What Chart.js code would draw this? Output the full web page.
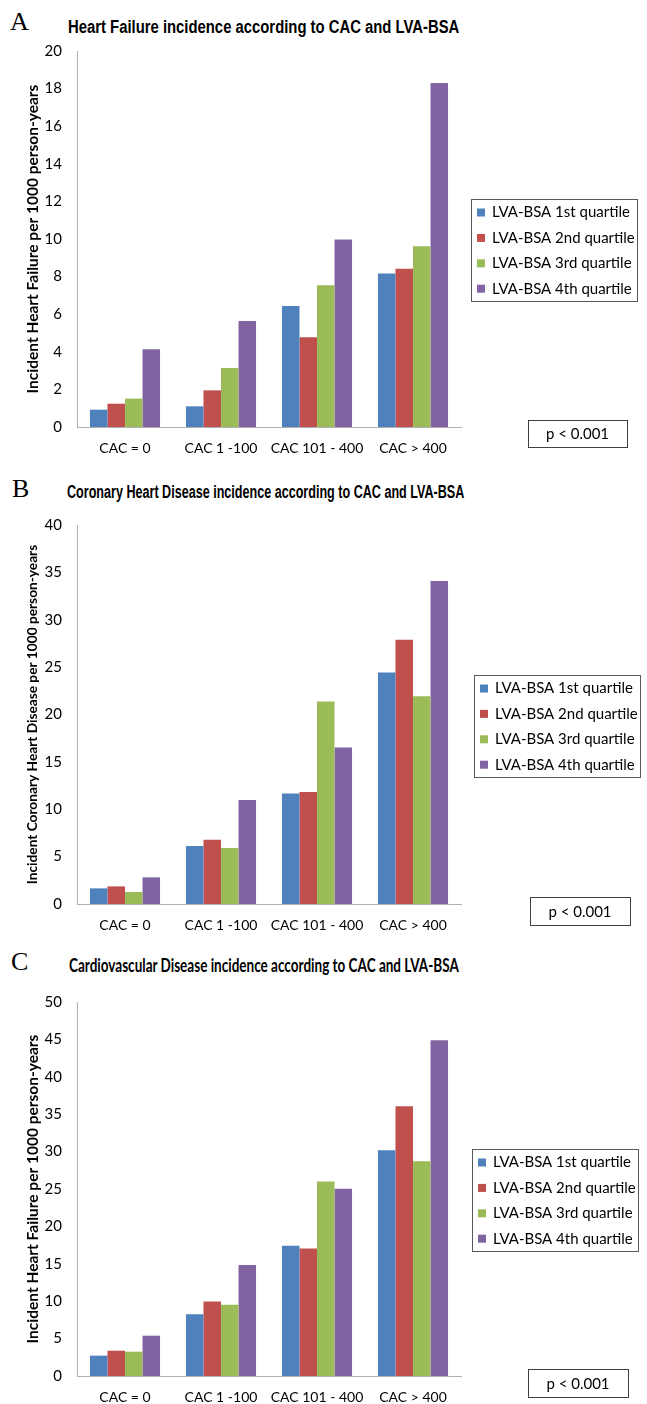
<!DOCTYPE html>
<html>
<head>
<meta charset="utf-8">
<script src="https://cdn.jsdelivr.net/npm/chart.js@4.4.0/dist/chart.umd.min.js"></script>
<style>
  body { margin: 0; background: #fff; }
  #page { position: relative; width: 647px; height: 1404px; overflow: hidden; }
  .letter { position: absolute; font-family: "Liberation Serif", serif; font-size: 26px; line-height: 26px; color: #000; }
  .title { position: absolute; white-space: nowrap; font-weight: bold; font-size: 18px; line-height: 18px; color: #000; transform-origin: 0 50%; }
  canvas { position: absolute; left: 0; }
</style>
</head>
<body>
<div id="page">
  <div class="letter" style="left:10px;top:9px">A</div>
  <div class="title" data-w="391" style="left:68px;top:18px;font-family:'Liberation Sans',Arial,sans-serif">Heart Failure incidence according to CAC and LVA-BSA</div>
  <canvas id="chartA" width="647" height="465" style="top:0px"></canvas>

  <div class="letter" style="left:12px;top:476px">B</div>
  <div class="title" data-w="397" style="left:67px;top:483px;font-family:'Liberation Sans',Arial,sans-serif">Coronary Heart Disease incidence according to CAC and LVA-BSA</div>
  <canvas id="chartB" width="647" height="470" style="top:465px"></canvas>

  <div class="letter" style="left:11px;top:949px">C</div>
  <div class="title" data-w="390" style="left:69px;top:956px;font-family:Lato,sans-serif">Cardiovascular Disease incidence according to CAC and LVA-BSA</div>
  <canvas id="chartC" width="647" height="469" style="top:935px"></canvas>
</div>
<script>
const categories = ['CAC = 0', 'CAC 1 -100', 'CAC 101 - 400', 'CAC > 400'];
const quartiles = ['LVA-BSA 1st quartile', 'LVA-BSA 2nd quartile', 'LVA-BSA 3rd quartile', 'LVA-BSA 4th quartile'];
const colors = ['#4F81BD', '#C0504D', '#9BBB59', '#8064A2'];
const pLabel = 'p < 0.001';

// A: heart failure
const hfQ1 = [0.92, 1.10, 6.44, 8.16];
const hfQ2 = [1.24, 1.95, 4.77, 8.42];
const hfQ3 = [1.51, 3.14, 7.54, 9.61];
const hfQ4 = [4.13, 5.64, 9.98, 18.3];

// B: coronary heart disease
const chdQ1 = [1.65, 6.12, 11.67, 24.43];
const chdQ2 = [1.86, 6.78, 11.81, 27.9];
const chdQ3 = [1.27, 5.9, 21.37, 21.93];
const chdQ4 = [2.81, 10.97, 16.52, 34.1];

// C: cardiovascular disease
const cvdQ1 = [2.72, 8.24, 17.41, 30.19];
const cvdQ2 = [3.38, 9.97, 17.05, 36.06];
const cvdQ3 = [3.25, 9.53, 26.0, 28.72];
const cvdQ4 = [5.39, 14.83, 25.02, 44.88];

// legend frame and p-value box drawn on top of each chart
const boxesPlugin = {
  id: 'boxes',
  afterDraw(chart, args, opts) {
    const ctx = chart.ctx;
    const lg = opts.legend, p = opts.p;
    ctx.save();
    ctx.lineWidth = 1;
    ctx.strokeStyle = '#595959';
    ctx.strokeRect(lg.x + 0.5, lg.y + 0.5, lg.w, lg.h);
    ctx.font = '15px Lato';
    ctx.textBaseline = 'middle';
    chart.data.datasets.forEach((ds, i) => {
      const y = lg.y + 13.5 + i * 25.4;
      ctx.fillStyle = ds.backgroundColor;
      ctx.fillRect(lg.x + 6, y - 4, 8, 8);
      ctx.fillStyle = '#000';
      ctx.fillText(ds.label, lg.x + 21, y);
    });
    ctx.strokeStyle = '#404040';
    ctx.strokeRect(p.x + 0.5, p.y + 0.5, p.w, p.h);
    ctx.textAlign = 'center';
    ctx.fillStyle = '#000';
    ctx.fillText(pLabel, p.x + p.w / 2, p.y + p.h / 2 + 1);
    ctx.restore();
  }
};

function makeChart(id, series, yMax, yStep, yTitle, yTitleSize, top, bottom, legendBox, pBox) {
  const canvas = document.getElementById(id);
  return new Chart(canvas, {
    type: 'bar',
    data: {
      labels: categories,
      datasets: series.map((d, i) => ({
        label: quartiles[i],
        data: d,
        backgroundColor: colors[i],
        borderWidth: 0,
        categoryPercentage: 0.73,
        barPercentage: 1.0
      }))
    },
    options: {
      responsive: false,
      animation: false,
      layout: { padding: { left: 0, right: 186, top: top, bottom: 0 } },
      plugins: {
        legend: { display: false },
        tooltip: { enabled: false },
        boxes: { legend: legendBox, p: pBox }
      },
      scales: {
        x: {
          grid: { display: false, drawTicks: false },
          border: { color: '#B0B0B0' },
          ticks: { padding: 13, maxRotation: 0, minRotation: 0, autoSkip: false, color: '#000', font: { family: 'Lato', size: 14 } },
          afterFit: s => { s.height = canvas.height - bottom; }
        },
        y: {
          min: 0,
          max: yMax,
          grid: { display: false, drawTicks: false },
          border: { color: '#B0B0B0' },
          ticks: { stepSize: yStep, padding: 15, color: '#000', font: { family: 'Lato', size: 15 } },
          title: {
            display: true,
            text: yTitle,
            color: '#000',
            font: { family: 'Lato', size: yTitleSize, weight: 'bold' },
            padding: { top: 24, bottom: 0 }
          },
          afterFit: s => { s.width = 77; }
        }
      }
    },
    plugins: [boxesPlugin]
  });
}

makeChart('chartA', [hfQ1, hfQ2, hfQ3, hfQ4], 20, 2,
  'Incident Heart Failure per 1000 person-years', 15.5, 51, 427,
  { x: 471, y: 199, w: 166, h: 102 }, { x: 528, y: 420, w: 99, h: 27 });

makeChart('chartB', [chdQ1, chdQ2, chdQ3, chdQ4], 40, 5,
  'Incident Coronary Heart Disease per 1000 person-years', 13.7, 60, 439,
  { x: 474, y: 210, w: 166, h: 102 }, { x: 530, y: 432, w: 100, h: 28 });

makeChart('chartC', [cvdQ1, cvdQ2, cvdQ3, cvdQ4], 50, 5,
  'Incident Heart Failure per 1000 person-years', 15.5, 67, 441,
  { x: 472, y: 214, w: 166, h: 102 }, { x: 528, y: 434, w: 100, h: 28 });

document.querySelectorAll('.title').forEach(el => {
  const w = +el.dataset.w;
  el.style.transform = 'scaleX(' + (w / el.offsetWidth) + ')';
});
</script>
</body>
</html>
